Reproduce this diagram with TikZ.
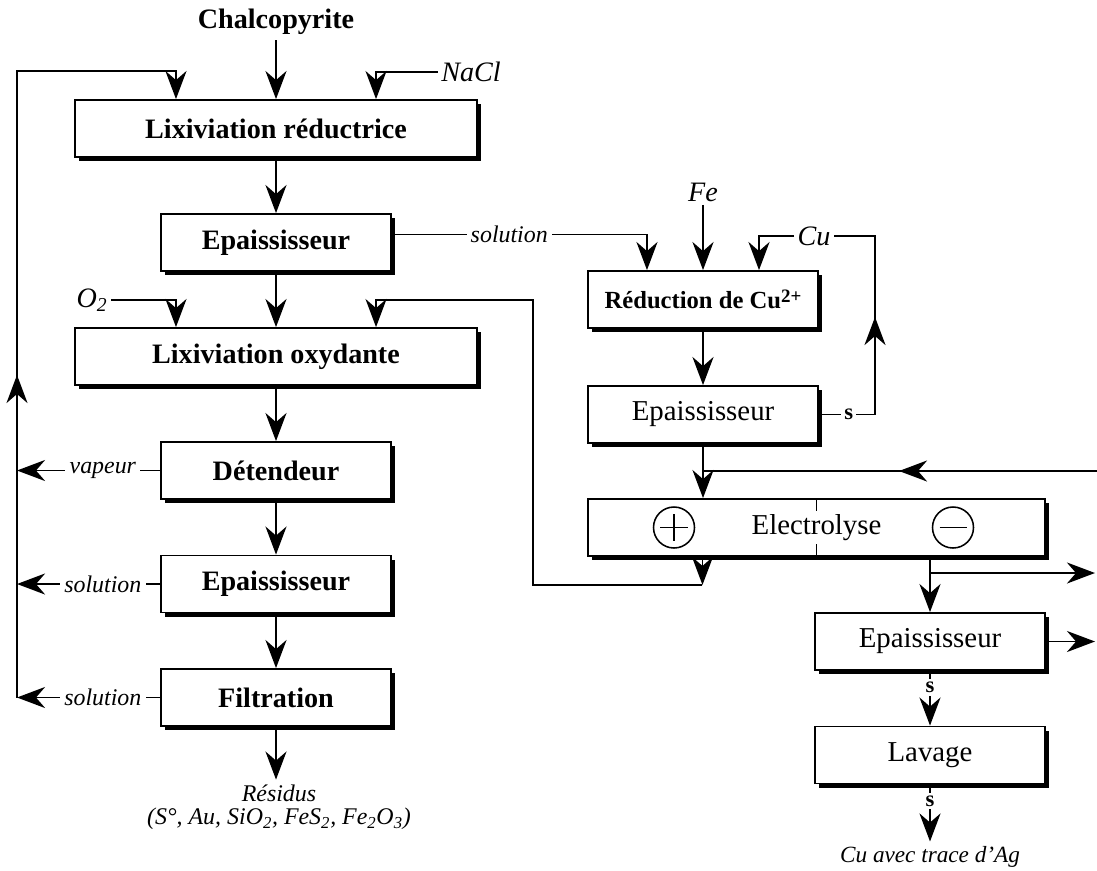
\documentclass[tikz,border=0pt]{standalone}
\usepackage{fontspec}
\setmainfont{Liberation Serif}
\usetikzlibrary{arrows.meta,shadows}

\tikzset{
  arr/.style={-{Stealth[length=20pt,width=15pt,inset=6.5pt]}, line width=1.1pt},
  box/.style={draw, line width=1.3pt, fill=white, inner sep=0pt,
    minimum width=5.75cm, minimum height=1.425cm,
    font=\fontsize{20}{24}\selectfont\bfseries,
    drop shadow={shadow xshift=0.11cm, shadow yshift=-0.11cm, fill=black, opacity=1}},
  bigbox/.style={box, minimum width=10.05cm},
  rbox/.style={box, font=\fontsize{20.5}{24}\selectfont},
  feed/.style={font=\fontsize{20}{24}\selectfont\itshape, inner sep=2pt},
  lab/.style={fill=white, inner sep=3pt, font=\fontsize{17}{20}\selectfont\itshape},
  slab/.style={fill=white, inner sep=2pt, font=\fontsize{16}{18}\selectfont\bfseries},
}

\begin{document}
\begin{tikzpicture}[x=0.025cm, y=-0.025cm, line width=1.1pt]
  \useasboundingbox (0,0) rectangle (1097,870);

  % main line
  \node[font=\fontsize{20}{24}\selectfont\bfseries] (chal) at (276,22) {Chalcopyrite};
  \node[bigbox] (lxr) at (276,128.5) {Lixiviation réductrice};
  \node[box] (ep1) at (276,242.5) {Epaississeur};
  \node[bigbox] (lxo) at (276,356.5) {Lixiviation oxydante};
  \node[box] (det) at (276,470.5) {Détendeur};
  \node[box] (ep2) at (276,584) {Epaississeur};
  \node[box] (filt) at (276,697.5) {Filtration};
  \node[lab, fill=none] (res) at (279,793) {Résidus};
  \node[lab, fill=none] (resf) at (279,819)
    {(S°, Au, SiO\textsubscript{2}, FeS\textsubscript{2}, Fe\textsubscript{2}O\textsubscript{3})};
  \node[feed] (nacl) at (471,72) {NaCl};
  \node[feed] (otwo) at (92,300) {O\textsubscript{2}};

  % copper branch
  \node[box, font=\fontsize{17.5}{20}\selectfont\bfseries] (red) at (703,299.5)
    {Réduction de Cu\raisebox{0.55ex}{\fontsize{13.5}{14}\selectfont 2+}};
  \node[rbox] (ep3) at (703,414.5) {Epaississeur};
  \node[rbox, minimum width=11.425cm] (elec) at (816.5,527.5) {Electrolyse};
  \node[rbox] (ep4) at (930,641.5) {Epaississeur};
  \node[rbox] (lav) at (930,755) {Lavage};
  \node[feed] (fe) at (703,192) {Fe};
  \node[feed] (cu) at (814,236) {Cu};
  \node[lab, fill=none, font=\fontsize{16.5}{20}\selectfont\itshape] (cuag) at (930,857)
    {Cu avec trace d'Ag};

  \coordinate (lpB) at (17,697.5);
  \coordinate (lpM) at (17,375);
  \coordinate (lpT) at (17,71);
  \coordinate (ret) at (533,300);
  \coordinate (cuR) at (875,236);
  \coordinate (cuM) at (875,317);
  \coordinate (rin) at (1097,471);
  \coordinate (rinM) at (899,471);
  \coordinate (rout) at (1095,573);
  \coordinate (rout2) at (1095,641.5);

  % anode and cathode marks
  \draw (674,527.5) circle[radius=0.5125cm];
  \draw (660,527.5) -- (688,527.5) (674,514) -- (674,541);
  \draw (953,527.5) circle[radius=0.5125cm];
  \draw (939.5,527.5) -- (966.5,527.5);
  \draw (elec.north) -- ++(0,13) (elec.south) -- ++(0,-13);

  % flows
  \draw[arr] (chal) -- (lxr);
  \draw[arr] (lxr) -- (ep1);
  \draw[arr] (ep1) -- (lxo);
  \draw[arr] (lxo) -- (det);
  \draw[arr] (det) -- (ep2);
  \draw[arr] (ep2) -- (filt);
  \draw[arr] (filt) -- (filt |- res.north);
  \draw[arr] (nacl) -| ([xshift=2.5cm]lxr.north);
  \draw[arr] (otwo) -| ([xshift=-2.5cm]lxo.north);

  \draw[arr] (det) -- node[pos=0.4, lab]{vapeur} (det.west -| lpB);
  \draw[arr] (ep2) -- node[pos=0.4, lab]{solution} (ep2.west -| lpB);
  \draw[arr] (filt) -- node[pos=0.4, lab]{solution} (lpB);
  \draw[arr] (lpB) -- (lpT) -| ([xshift=-2.5cm]lxr.north);
  \draw[arr] (lpB) -- (lpM);

  \draw[arr] ([yshift=0.2cm]ep1.east) -| node[pos=0.23, lab]{solution} ([xshift=-1.4cm]red.north);
  \draw[arr] (fe) -- (red);
  \draw[arr] (cu) -| ([xshift=1.4cm]red.north);
  \draw (ep3.east) -- node[pos=0.53, slab]{s} (ep3.east -| cuR) -- (cuR) -- (cu);
  \draw[arr] (ep3.east -| cuR) -- (cuM);
  \draw[arr] (red) -- (ep3);
  \draw[arr] (ep3) -- (ep3 |- elec.north);
  \draw (rin) -- (rin -| ep3.south);
  \draw[arr] (rin) -- (rinM);

  % anolyte back to the oxidising leach
  \draw[arr] ([xshift=-2.85cm]elec.south) -- ++(0,28);
  \draw[arr] ([xshift=-2.85cm]elec.south) ++(0,28) -| (ret) -| ([xshift=2.5cm]lxo.north);

  \draw[arr] (elec.south -| ep4.north) -- (ep4);
  \draw[arr] (rout -| ep4.north) -- (rout);
  \draw[arr] (ep4) -- (rout2);
  \draw[arr] (ep4) -- node[pos=0.3, slab]{s} (lav);
  \draw[arr] (lav) -- node[pos=0.29, slab]{s} (cuag);
\end{tikzpicture}
\end{document}
